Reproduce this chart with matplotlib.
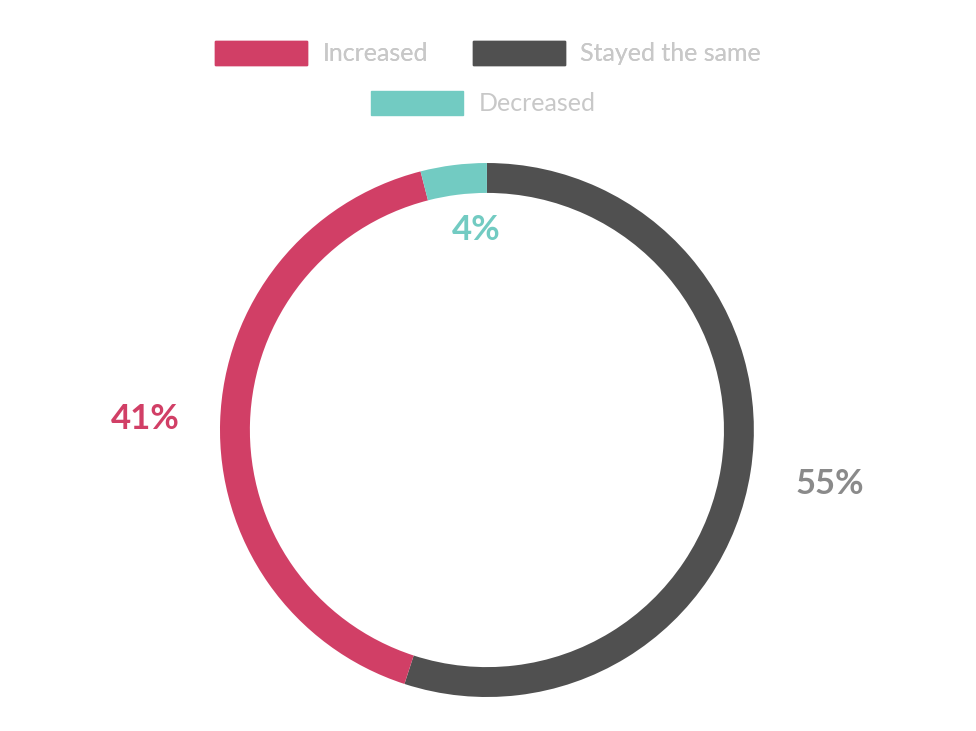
import matplotlib
matplotlib.use("Agg")
import matplotlib.pyplot as plt
from matplotlib.patches import Patch

labels = ["Stayed the same", "Increased", "Decreased"]
values = [55, 41, 4]
colors = ["#505050", "#d13f66", "#72cbc2"]
pct_colors = ["#8a8a8a", "#d13f66", "#72cbc2"]
pct_text = ["55%", "41%", "4%"]
# label positions as (angle offset, radius) relative to slice mid-angle
label_pos = [(0, 1.30), (0, 1.28), (-4, 0.75)]

plt.rcParams['font.family'] = ['Lato', 'DejaVu Sans']

fig = plt.figure(figsize=(9.76, 7.31), dpi=100)
ax = fig.add_axes([0.2254, 0.0465, 0.547, 0.7305])
wedges, _ = ax.pie(values, colors=colors, startangle=90, counterclock=False,
                   radius=1, wedgeprops=dict(width=0.112, linewidth=0))
ax.set_xlim(-1, 1)
ax.set_ylim(-1, 1)
ax.set_aspect("auto")

import numpy as np
for w, t, c, (off, r) in zip(wedges, pct_text, pct_colors, label_pos):
    ang = np.deg2rad((w.theta1 + w.theta2) / 2 + off)
    ax.text(r * np.cos(ang), r * np.sin(ang), t, color=c, fontsize=25,
            fontweight="bold", ha="center", va="center")

handles = [Patch(color=c) for c in colors]
leg_kw = dict(frameon=False, fontsize=18, handlelength=3.7, handleheight=1.1,
              handletextpad=0.6, columnspacing=1.8, labelcolor="#c8c8c8")
leg1 = fig.legend([handles[1], handles[0]], [labels[1], labels[0]], ncol=2,
                  loc="center", bbox_to_anchor=(0.5, 1 - 53 / 731), **leg_kw)
fig.add_artist(leg1)
fig.legend([handles[2]], [labels[2]], loc="center",
           bbox_to_anchor=(0.495, 1 - 103 / 731), **leg_kw)

fig.savefig("out.png", dpi=100)
